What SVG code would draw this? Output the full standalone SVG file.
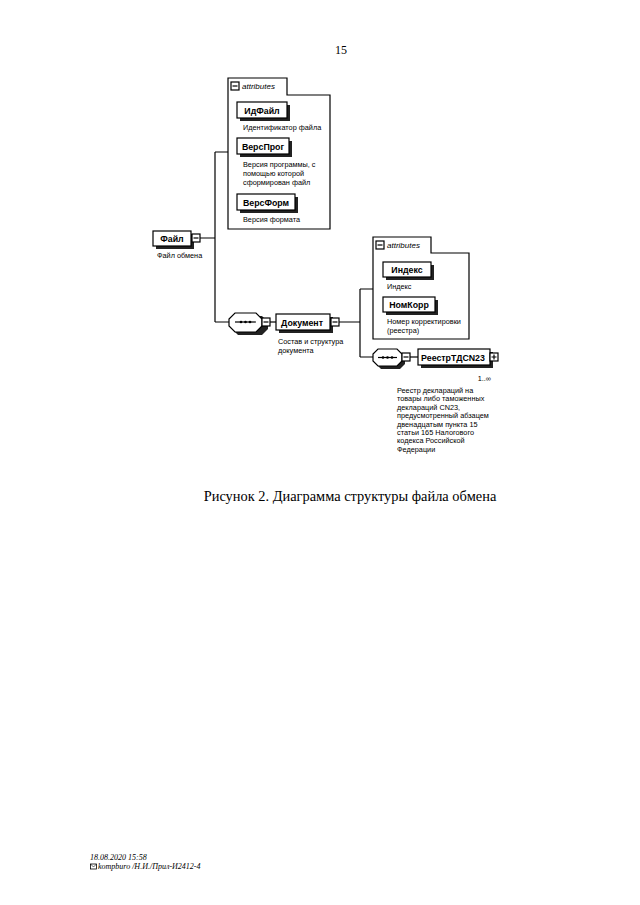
<svg xmlns="http://www.w3.org/2000/svg" width="640" height="905" viewBox="0 0 640 905">
<defs>
<style>
.bg{fill:#fff}
.ln{fill:none;stroke:#000;stroke-width:1.2}
.box{fill:#fff;stroke:#000;stroke-width:1.2}
.sh{fill:#222}
.lbl{font-family:"Liberation Sans",Arial,sans-serif;font-size:8.8px;font-weight:bold;text-anchor:middle;fill:#000}
.dsc{font-family:"Liberation Sans",Arial,sans-serif;font-size:7.3px;fill:#000}
.att{font-family:"Liberation Sans",Arial,sans-serif;font-size:8px;font-style:italic;fill:#000}
.ser{font-family:"Liberation Serif","Times New Roman",serif;fill:#000}
</style>
</defs>
<rect class="bg" x="0" y="0" width="640" height="905"/>
<text class="ser" x="341" y="54" font-size="12" text-anchor="middle">15</text>

<g id="connectors">
<path class="ln" d="M200,238 H215 M215,152 V322 M215,152 H228 M215,322 H229"/>
<path class="ln" d="M270,322 H276"/>
<path class="ln" d="M339,322 H360 M360,289 V357 M360,289 H373 M360,357 H373"/>
<path class="ln" d="M410,357 H418"/>
</g>

<g id="attributes1">
<path class="box" d="M228,78 H287 V95 H330 V229 H228 Z"/>
<rect class="box" x="231" y="82" width="8" height="8"/>
<path class="ln" d="M232.5,86 H237.5"/>
<text class="att" x="242" y="89">attributes</text>
</g>

<g id="IdFile">
<rect class="sh" x="240" y="105" width="50" height="16"/>
<rect class="box" x="237" y="102" width="50" height="16"/>
<text class="lbl" x="262" y="113.5">ИдФайл</text>
<text class="dsc" x="243" y="130">Идентификатор файла</text>
</g>

<g id="VersProg">
<rect class="sh" x="240" y="141" width="52" height="16"/>
<rect class="box" x="237" y="138" width="52" height="16"/>
<text class="lbl" x="263" y="149.5">ВерсПрог</text>
<text class="dsc" x="243" y="167">Версия программы, с</text>
<text class="dsc" x="243" y="176">помощью которой</text>
<text class="dsc" x="243" y="185">сформирован файл</text>
</g>

<g id="VersForm">
<rect class="sh" x="240" y="197" width="58" height="16"/>
<rect class="box" x="237" y="194" width="58" height="16"/>
<text class="lbl" x="266" y="205.5">ВерсФорм</text>
<text class="dsc" x="243" y="222">Версия формата</text>
</g>

<g id="File">
<rect class="sh" x="156" y="234" width="38" height="15"/>
<rect class="box" x="153" y="231" width="38" height="15"/>
<text class="lbl" x="172" y="242">Файл</text>
<rect class="box" x="192" y="234" width="8" height="8"/>
<path class="ln" d="M193.5,238 H198.5"/>
<text class="dsc" x="157" y="258">Файл обмена</text>
</g>

<g id="seq1">
<path class="sh" d="M238,316 H262 L268,322 V329 L262,335 H238 L232,329 V322 Z"/>
<path class="box" d="M235,313 H256 L262,319 V326 L256,332 H235 L229,326 V319 Z"/>
<path class="ln" d="M235,322 H256" stroke-width="1"/>
<circle cx="241" cy="322" r="1.3"/>
<circle cx="245.5" cy="322" r="1.3"/>
<circle cx="250" cy="322" r="1.3"/>
<rect class="box" x="262" y="318" width="8" height="8"/>
<path class="ln" d="M263.5,322 H268.5"/>
</g>

<g id="Document">
<rect class="sh" x="279" y="317" width="54" height="16"/>
<rect class="box" x="276" y="314" width="54" height="16"/>
<text class="lbl" x="302" y="325.5">Документ</text>
<rect class="box" x="331" y="318" width="8" height="8"/>
<path class="ln" d="M332.5,322 H337.5"/>
<text class="dsc" x="278" y="344">Состав и структура</text>
<text class="dsc" x="278" y="353">документа</text>
</g>

<g id="attributes2">
<path class="box" d="M373,237 H431 V253 H469 V339 H373 Z"/>
<rect class="box" x="376" y="241" width="8" height="8"/>
<path class="ln" d="M377.5,245 H382.5"/>
<text class="att" x="387" y="248">attributes</text>
</g>

<g id="Index">
<rect class="sh" x="386" y="265" width="48" height="15"/>
<rect class="box" x="383" y="262" width="48" height="15"/>
<text class="lbl" x="407" y="273">Индекс</text>
<text class="dsc" x="387" y="289">Индекс</text>
</g>

<g id="NomKorr">
<rect class="sh" x="386" y="300" width="52" height="15"/>
<rect class="box" x="383" y="297" width="52" height="15"/>
<text class="lbl" x="409" y="308">НомКорр</text>
<text class="dsc" x="387" y="324">Номер корректировки</text>
<text class="dsc" x="387" y="333">(реестра)</text>
</g>

<g id="seq2">
<path class="sh" d="M381,352 H400 L405,357 V364 L400,369 H381 L376,364 V357 Z"/>
<path class="box" d="M378,349 H397 L402,354 V361 L397,366 H378 L373,361 V354 Z"/>
<path class="ln" d="M378,357.5 H397" stroke-width="1"/>
<circle cx="383" cy="357.5" r="1.3"/>
<circle cx="387.5" cy="357.5" r="1.3"/>
<circle cx="392" cy="357.5" r="1.3"/>
<rect class="box" x="402" y="353" width="8" height="8"/>
<path class="ln" d="M403.5,357 H408.5"/>
</g>

<g id="ReestrTD">
<rect class="sh" x="421" y="352" width="72" height="16"/>
<rect class="box" x="418" y="349" width="72" height="16"/>
<text class="lbl" x="453" y="360.5">РеестрТДCN23</text>
<rect class="box" x="490" y="353" width="8" height="8"/>
<path class="ln" d="M491.5,357 H496.5 M494,354.5 V359.5"/>
<text class="dsc" x="491" y="381" text-anchor="end">1..∞</text>
<text class="dsc" x="397" y="393">Реестр деклараций на</text>
<text class="dsc" x="397" y="401.4">товары либо таможенных</text>
<text class="dsc" x="397" y="409.8">деклараций CN23,</text>
<text class="dsc" x="397" y="418.2">предусмотренный абзацем</text>
<text class="dsc" x="397" y="426.6">двенадцатым пункта 15</text>
<text class="dsc" x="397" y="435">статьи 165 Налогового</text>
<text class="dsc" x="397" y="443.4">кодекса Российской</text>
<text class="dsc" x="397" y="451.8">Федерации</text>
</g>

<text class="ser" x="350" y="501" font-size="14.4" text-anchor="middle">Рисунок 2. Диаграмма структуры файла обмена</text>

<g id="footer">
<text class="ser" x="90" y="860" font-size="8" font-style="italic">18.08.2020 15:58</text>
<rect x="90.5" y="864" width="6" height="5" fill="none" stroke="#000" stroke-width="0.8"/>
<path d="M90.5,864 L93.5,867 L96.5,864" fill="none" stroke="#000" stroke-width="0.6"/>
<text class="ser" x="98" y="869" font-size="8" font-style="italic">kompburo /Н.И./Прил-И2412-4</text>
</g>
</svg>
